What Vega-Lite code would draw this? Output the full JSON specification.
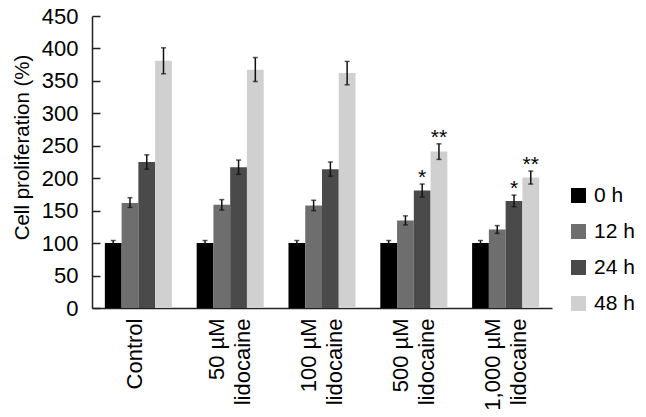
{
  "$schema": "https://vega.github.io/schema/vega-lite/v6.json",
  "width": 460,
  "height": 292,
  "autosize": {"type": "none"},
  "padding": {"left": 92, "top": 16, "right": 94, "bottom": 109},
  "background": "white",
  "config": {
    "font": "Liberation Sans",
    "view": {"stroke": null},
    "axis": {"grid": false, "domainColor": "#222", "domainWidth": 1.5, "labelColor": "#000", "titleColor": "#000", "labelFont": "Liberation Sans", "titleFont": "Liberation Sans"}
  },
  "data": {
    "values": [
      {"group": "Control", "time": "0 h", "value": 100, "lo": 96, "hi": 104, "star": ""},
      {"group": "Control", "time": "12 h", "value": 162, "lo": 155, "hi": 170, "star": ""},
      {"group": "Control", "time": "24 h", "value": 225, "lo": 214, "hi": 236, "star": ""},
      {"group": "Control", "time": "48 h", "value": 381, "lo": 361, "hi": 401, "star": ""},
      {"group": "50 µM|lidocaine", "time": "0 h", "value": 100, "lo": 96, "hi": 104, "star": ""},
      {"group": "50 µM|lidocaine", "time": "12 h", "value": 159, "lo": 151, "hi": 167, "star": ""},
      {"group": "50 µM|lidocaine", "time": "24 h", "value": 217, "lo": 206, "hi": 228, "star": ""},
      {"group": "50 µM|lidocaine", "time": "48 h", "value": 367, "lo": 349, "hi": 386, "star": ""},
      {"group": "100 µM|lidocaine", "time": "0 h", "value": 100, "lo": 96, "hi": 104, "star": ""},
      {"group": "100 µM|lidocaine", "time": "12 h", "value": 158, "lo": 150, "hi": 166, "star": ""},
      {"group": "100 µM|lidocaine", "time": "24 h", "value": 214, "lo": 203, "hi": 225, "star": ""},
      {"group": "100 µM|lidocaine", "time": "48 h", "value": 362, "lo": 344, "hi": 380, "star": ""},
      {"group": "500 µM|lidocaine", "time": "0 h", "value": 100, "lo": 96, "hi": 104, "star": ""},
      {"group": "500 µM|lidocaine", "time": "12 h", "value": 135, "lo": 128, "hi": 142, "star": ""},
      {"group": "500 µM|lidocaine", "time": "24 h", "value": 181, "lo": 171, "hi": 191, "star": "*"},
      {"group": "500 µM|lidocaine", "time": "48 h", "value": 241, "lo": 229, "hi": 253, "star": "**"},
      {"group": "1,000 µM|lidocaine", "time": "0 h", "value": 100, "lo": 96, "hi": 104, "star": ""},
      {"group": "1,000 µM|lidocaine", "time": "12 h", "value": 121, "lo": 115, "hi": 127, "star": ""},
      {"group": "1,000 µM|lidocaine", "time": "24 h", "value": 165, "lo": 156, "hi": 174, "star": "*"},
      {"group": "1,000 µM|lidocaine", "time": "48 h", "value": 201, "lo": 191, "hi": 211, "star": "**"}
    ]
  },
  "encoding": {
    "x": {
      "field": "group", "type": "nominal",
      "sort": ["Control", "50 µM|lidocaine", "100 µM|lidocaine", "500 µM|lidocaine", "1,000 µM|lidocaine"],
      "scale": {"paddingInner": 0.27, "paddingOuter": 0.14},
      "axis": {"title": null, "labelAngle": 270, "labelFontSize": 22, "labelLineHeight": 26, "labelPadding": 10, "ticks": false, "labelExpr": "split(datum.label, '|')", "labelLimit": 200, "labelOverlap": false,
        "labelOffset": {"condition": {"test": "datum.value == 'Control'", "value": -3}, "value": -13}}
    },
    "xOffset": {
      "field": "time", "type": "nominal",
      "sort": ["0 h", "12 h", "24 h", "48 h"],
      "scale": {"paddingInner": 0, "paddingOuter": 0}
    }
  },
  "layer": [
    {
      "mark": {"type": "bar"},
      "encoding": {
        "y": {
          "field": "value", "type": "quantitative",
          "scale": {"domain": [0, 450], "nice": false},
          "axis": {"title": "Cell proliferation (%)", "values": [0, 50, 100, 150, 200, 250, 300, 350, 400, 450], "titleFontSize": 20.5, "titleFontWeight": "normal", "titleAngle": 270, "titleAlign": "center", "titleBaseline": "middle", "titleX": -70, "titleY": 131, "labelFontSize": 22, "labelOverlap": false, "labelFlush": false, "ticks": true, "tickSize": -8, "tickColor": "#222", "tickWidth": 1.5, "labelPadding": 22}
        },
        "color": {
          "field": "time", "type": "nominal",
          "sort": ["0 h", "12 h", "24 h", "48 h"],
          "scale": {"domain": ["0 h", "12 h", "24 h", "48 h"], "range": ["#000000", "#6e6e6e", "#4a4a4a", "#d0d0d0"]},
          "legend": {"title": null, "orient": "none", "legendX": 476, "legendY": 169, "symbolType": "square", "symbolSize": 225, "symbolStrokeWidth": 0, "labelFontSize": 21, "labelColor": "#000", "rowPadding": 14, "labelOffset": 5}
        }
      }
    },
    {
      "mark": {"type": "rule", "color": "#111", "strokeWidth": 1.5},
      "encoding": {
        "y": {"field": "lo", "type": "quantitative", "axis": {"title": "Cell proliferation (%)", "values": [0, 50, 100, 150, 200, 250, 300, 350, 400, 450], "titleFontSize": 20.5, "titleFontWeight": "normal", "titleAngle": 270, "titleAlign": "center", "titleBaseline": "middle", "titleX": -70, "titleY": 131, "labelFontSize": 22, "labelOverlap": false, "labelFlush": false, "ticks": true, "tickSize": -8, "tickColor": "#222", "tickWidth": 1.5, "labelPadding": 22}},
        "y2": {"field": "hi"}
      }
    },
    {
      "mark": {"type": "tick", "color": "#111", "size": 5, "thickness": 1.5, "orient": "horizontal"},
      "encoding": {"y": {"field": "lo", "type": "quantitative", "axis": {"title": "Cell proliferation (%)", "values": [0, 50, 100, 150, 200, 250, 300, 350, 400, 450], "titleFontSize": 20.5, "titleFontWeight": "normal", "titleAngle": 270, "titleAlign": "center", "titleBaseline": "middle", "titleX": -70, "titleY": 131, "labelFontSize": 22, "labelOverlap": false, "labelFlush": false, "ticks": true, "tickSize": -8, "tickColor": "#222", "tickWidth": 1.5, "labelPadding": 22}}}
    },
    {
      "mark": {"type": "tick", "color": "#111", "size": 5, "thickness": 1.5, "orient": "horizontal"},
      "encoding": {"y": {"field": "hi", "type": "quantitative", "axis": {"title": "Cell proliferation (%)", "values": [0, 50, 100, 150, 200, 250, 300, 350, 400, 450], "titleFontSize": 20.5, "titleFontWeight": "normal", "titleAngle": 270, "titleAlign": "center", "titleBaseline": "middle", "titleX": -70, "titleY": 131, "labelFontSize": 22, "labelOverlap": false, "labelFlush": false, "ticks": true, "tickSize": -8, "tickColor": "#222", "tickWidth": 1.5, "labelPadding": 22}}}
    },
    {
      "mark": {"type": "text", "fontSize": 21, "baseline": "alphabetic", "dy": 0, "color": "#000"},
      "encoding": {
        "y": {"field": "hi", "type": "quantitative", "axis": {"title": "Cell proliferation (%)", "values": [0, 50, 100, 150, 200, 250, 300, 350, 400, 450], "titleFontSize": 20.5, "titleFontWeight": "normal", "titleAngle": 270, "titleAlign": "center", "titleBaseline": "middle", "titleX": -70, "titleY": 131, "labelFontSize": 22, "labelOverlap": false, "labelFlush": false, "ticks": true, "tickSize": -8, "tickColor": "#222", "tickWidth": 1.5, "labelPadding": 22}},
        "text": {"field": "star"}
      }
    }
  ]
}
